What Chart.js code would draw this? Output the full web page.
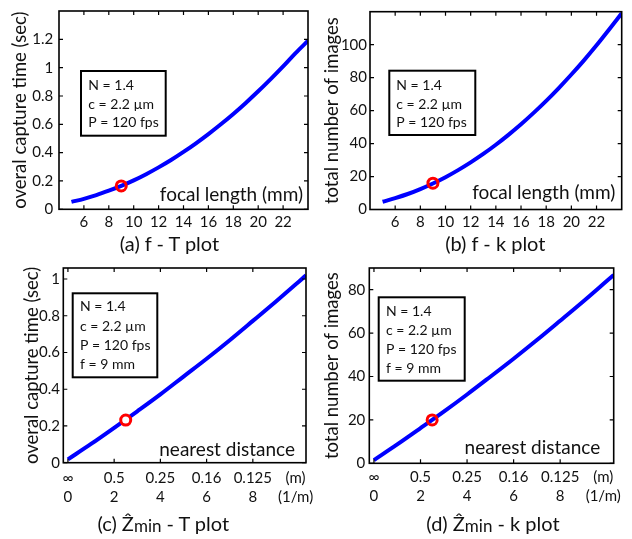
<!DOCTYPE html>
<html><head><meta charset="utf-8">
<script src="https://cdn.jsdelivr.net/npm/chart.js@4.4.1/dist/chart.umd.min.js"></script>
<style>
html,body{margin:0;padding:0;background:#fff;}
body{width:632px;height:539px;position:relative;overflow:hidden;font-family:Lato,"Open Sans",sans-serif;}
canvas{position:absolute;}
.cap{position:absolute;font-size:20px;color:#111;white-space:nowrap;transform:translate(-50%,-50%);line-height:1;}
.cap .sub{font-size:17px;position:relative;top:1px;}
</style></head><body>
<canvas id="ca" width="316" height="260" style="left:0;top:0"></canvas>
<canvas id="cb" width="316" height="260" style="left:316px;top:0"></canvas>
<canvas id="cc" width="316" height="279" style="left:0;top:260px"></canvas>
<canvas id="cd" width="316" height="279" style="left:316px;top:260px"></canvas>
<div class="cap" style="left:169.5px;top:243.3px">(a) f - T plot</div>
<div class="cap" style="left:495.3px;top:242.7px">(b) f - k plot</div>
<div class="cap" style="left:163.3px;top:523.3px">(c) Ẑ<span class="sub">min</span> - T plot</div>
<div class="cap" style="left:493px;top:523.3px">(d) Ẑ<span class="sub">min</span> - k plot</div>
<script>
// ---- data ----
const focalLength = [5,6,7,8,9,10,11,12,13,14,15,16,17,18,19,20,21,22,23,24];
const captureTimeVsF = [0.052,0.074,0.100,0.131,0.165,0.204,0.248,0.296,0.348,0.405,0.466,0.531,0.600,0.673,0.751,0.833,0.919,1.009,1.103,1.190];
const imagesVsF = [4.7,6.9,9.4,12.4,15.8,19.6,23.9,28.6,33.7,39.3,45.3,51.7,58.6,65.9,73.7,81.9,90.5,99.6,109.2,119.0];
const invDistance = [0,1,2,3,4,5,6,7,8,9,10,10.3];
const captureTimeVsZ = [0.018,0.102,0.19,0.28,0.372,0.469,0.566,0.667,0.772,0.878,0.987,1.02];
const imagesVsZ = [1.5,8.7,16.2,23.8,31.7,39.9,48.2,56.8,65.7,74.7,84.0,86.8];
const markerF = 9, markerT = 0.165, markerK = 16;
const markerInvZ = 2.5, markerTz = 0.232, markerKz = 20;
const xTicksF = [6,8,10,12,14,16,18,20,22];
const yTicksT = [0,0.2,0.4,0.6,0.8,1,1.2];
const yTicksK = [0,20,40,60,80,100];
const xTicksZ = [0,2,4,6,8];
const xTickLabelsM = ['∞','0.5','0.25','0.16','0.125'];
const xTickLabelsInv = ['0','2','4','6','8'];
const unitLabels = ['(m)','(1/m)'];
const unitLabelPos = 9.85;
const yTicksTz = [0,0.2,0.4,0.6,0.8,1];
const yTicksKz = [0,20,40,60,80];
const infoF = ['N = 1.4','c = 2.2 µm','P = 120 fps'];
const infoZ = ['N = 1.4','c = 2.2 µm','P = 120 fps','f = 9 mm'];

const FONT = 'Lato, "Open Sans", sans-serif';
const TXT = '#111';

const framePlugin = {
  id: 'frame',
  afterDraw(chart, args, o) {
    const {ctx, chartArea: a, scales: {x, y}} = chart;
    ctx.save();
    ctx.strokeStyle = '#000';
    ctx.lineWidth = 1.2;
    const L = 4;
    ctx.beginPath();
    x.ticks.forEach(t => {
      if (o.skipX !== undefined && t.value === o.skipX) return;
      const px = x.getPixelForValue(t.value);
      ctx.moveTo(px, a.bottom); ctx.lineTo(px, a.bottom - L);
      ctx.moveTo(px, a.top); ctx.lineTo(px, a.top + L);
    });
    y.ticks.forEach(t => {
      const py = y.getPixelForValue(t.value);
      ctx.moveTo(a.left, py); ctx.lineTo(a.left + L, py);
      ctx.moveTo(a.right, py); ctx.lineTo(a.right - L, py);
    });
    ctx.stroke();
    ctx.lineWidth = 1.6;
    ctx.strokeRect(a.left, a.top, a.right - a.left, a.bottom - a.top);
    const b = o.box;
    ctx.fillStyle = '#fff';
    ctx.fillRect(b.x, b.y, b.w, b.h);
    ctx.lineWidth = 2;
    ctx.strokeRect(b.x, b.y, b.w, b.h);
    ctx.fillStyle = TXT;
    ctx.font = '14px ' + FONT;
    ctx.textAlign = 'left';
    ctx.textBaseline = 'middle';
    o.lines.forEach((s, i) => ctx.fillText(s, b.tx, b.ty[i]));
    ctx.font = '19px ' + FONT;
    ctx.textAlign = 'right';
    ctx.fillText(o.label.text, o.label.x, o.label.y);
    ctx.restore();
  }
};

function makeChart(id, c) {
  return new Chart(document.getElementById(id), {
    type: 'line',
    data: { datasets: [
      { data: [c.marker], order: 0, showLine: false, pointRadius: 5, pointHoverRadius: 5,
        pointBorderWidth: 3, pointBorderColor: '#ff0000', pointBackgroundColor: c.markerFill },
      { data: c.points, order: 1, borderColor: '#0000ff', borderWidth: 4, pointRadius: 0,
        cubicInterpolationMode: 'monotone', fill: false }
    ]},
    options: {
      responsive: false, animation: false, devicePixelRatio: 1,
      layout: { padding: c.pad },
      events: [],
      plugins: { legend: { display: false }, tooltip: { enabled: false }, frame: c.frame },
      scales: {
        x: {
          type: 'linear', min: c.xMin, max: c.xMax,
          grid: { display: false, drawTicks: false }, border: { display: false },
          ticks: { autoSkip: false, maxRotation: 0, padding: c.xPad, color: TXT,
                   font: { family: FONT, size: 15, lineHeight: 1.267 }, callback: c.xLabel },
          afterBuildTicks: s => { s.ticks = c.xTicks.map(v => ({ value: v })); },
          afterFit: s => { s.height = c.xH; s.paddingLeft = 0; s.paddingRight = 0; }
        },
        y: {
          type: 'linear', min: c.yMin, max: c.yMax,
          grid: { display: false, drawTicks: false }, border: { display: false },
          ticks: { autoSkip: false, padding: c.yPad, color: TXT,
                   font: { family: FONT, size: 15 }, callback: v => String(v) },
          title: { display: true, text: c.yTitle, color: TXT, font: { family: FONT, size: 18.5 },
                   padding: { top: c.titlePad, bottom: 0 } },
          afterBuildTicks: s => { s.ticks = c.yTicks.map(v => ({ value: v })); },
          afterFit: s => { s.width = c.yW; s.paddingTop = 0; s.paddingBottom = 0; }
        }
      }
    },
    plugins: [framePlugin]
  });
}

const ptsF = ys => focalLength.map((f, i) => ({ x: f, y: ys[i] }));
const ptsZ = ys => invDistance.map((z, i) => ({ x: z, y: ys[i] }));
const zTicks = xTicksZ.concat([unitLabelPos]);
const zLabel = (v, i) => i < xTicksZ.length ? [xTickLabelsM[i], xTickLabelsInv[i]] : unitLabels;

function draw() {
  makeChart('ca', {
    points: ptsF(captureTimeVsF), marker: { x: markerF, y: markerT }, markerFill: 'rgba(0,0,0,0)',
    pad: { left: 0, top: 11, right: 5, bottom: 0 }, xH: 50.7, yW: 59, xPad: 2.9, yPad: 5.7, titlePad: 8.9,
    xMin: 4, xMax: 24, yMin: 0, yMax: 1.4, xTicks: xTicksF, yTicks: yTicksT, xLabel: v => String(v),
    yTitle: 'overal capture time (sec)',
    frame: { box: { x: 81, y: 71, w: 84.7, h: 64.7, tx: 88.3, ty: [85, 104, 122.7] }, lines: infoF,
             label: { text: 'focal length (mm)', x: 303, y: 195 } }
  });
  makeChart('cb', {
    points: ptsF(imagesVsF), marker: { x: markerF, y: markerK }, markerFill: 'rgba(0,0,0,0)',
    pad: { left: 0, top: 11.7, right: 10.3, bottom: 0 }, xH: 50.5, yW: 54, xPad: 2.7, yPad: 3, titlePad: 4.9,
    xMin: 4, xMax: 24, yMin: 0, yMax: 120, xTicks: xTicksF, yTicks: yTicksK, xLabel: v => String(v),
    yTitle: 'total number of images',
    frame: { box: { x: 73.3, y: 70.7, w: 86, h: 64.3, tx: 80.3, ty: [85, 104, 122.7] }, lines: infoF,
             label: { text: 'focal length (mm)', x: 299.3, y: 193.3 } }
  });
  makeChart('cc', {
    points: ptsZ(captureTimeVsZ), marker: { x: markerInvZ, y: markerTz }, markerFill: '#fff',
    pad: { left: 0, top: 6, right: 10, bottom: 0 }, xH: 76.3, yW: 63.3, xPad: 5.5, yPad: 3.3, titlePad: 20.9,
    xMin: -0.2, xMax: 10.3, yMin: 0, yMax: 1.06, xTicks: zTicks, yTicks: yTicksTz, xLabel: zLabel,
    yTitle: 'overal capture time (sec)',
    frame: { skipX: unitLabelPos, box: { x: 72.7, y: 33.3, w: 84.6, h: 84, tx: 80, ty: [46.7, 66.7, 85.7, 104.3] }, lines: infoZ,
             label: { text: 'nearest distance', x: 295, y: 190 } }
  });
  makeChart('cd', {
    points: ptsZ(imagesVsZ), marker: { x: markerInvZ, y: markerKz }, markerFill: 'rgba(0,0,0,0)',
    pad: { left: 0, top: 6, right: 18.3, bottom: 0 }, xH: 75.7, yW: 53.3, xPad: 3.9, yPad: 4, titlePad: 4.9,
    xMin: -0.2, xMax: 10.3, yMin: 0, yMax: 90, xTicks: zTicks, yTicks: yTicksKz, xLabel: zLabel,
    yTitle: 'total number of images',
    frame: { skipX: unitLabelPos, box: { x: 62.7, y: 37.3, w: 86, h: 83.4, tx: 70, ty: [51.7, 70.7, 89.3, 108.3] }, lines: infoZ,
             label: { text: 'nearest distance', x: 284.3, y: 188.3 } }
  });
}
if (document.fonts && document.fonts.load) {
  Promise.all([document.fonts.load('16px Lato')]).then(draw, draw);
} else { draw(); }
</script>
</body></html>
